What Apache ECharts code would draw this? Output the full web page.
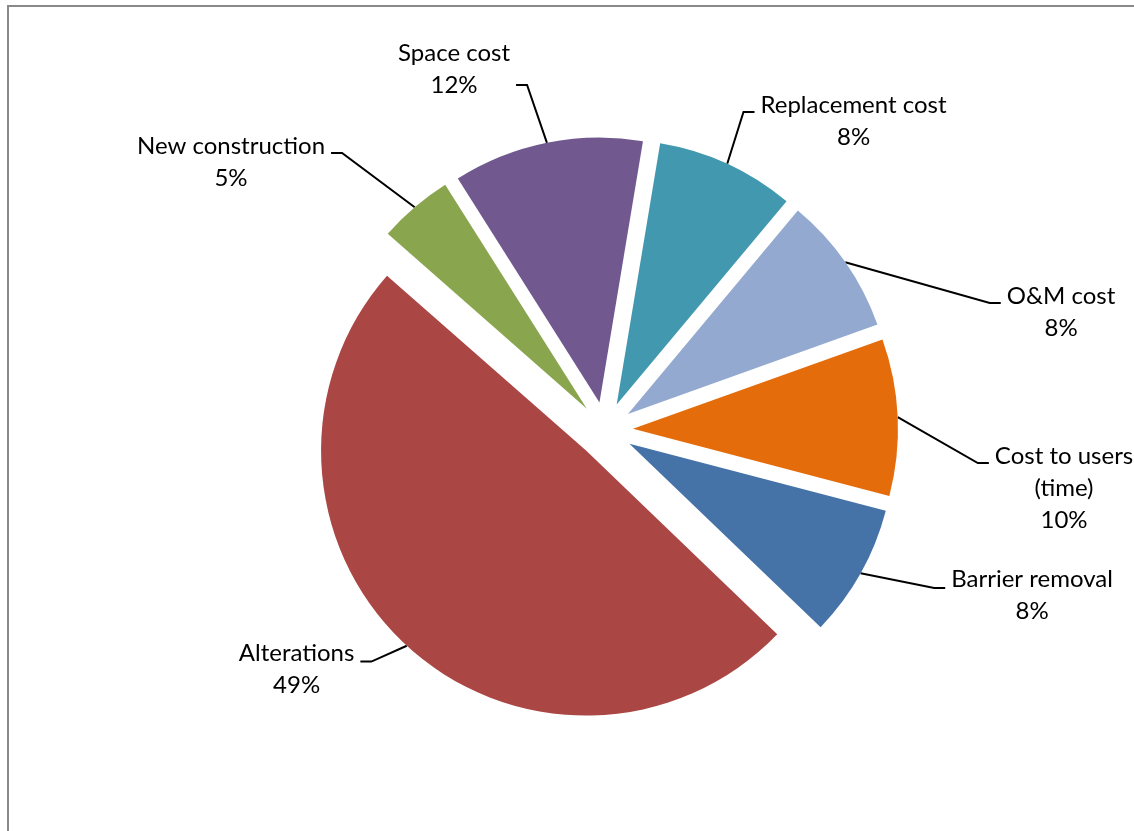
<!DOCTYPE html>
<html><head><meta charset="utf-8">
<script src="https://cdn.jsdelivr.net/npm/echarts@6/dist/echarts.min.js"></script>
<style>html,body{margin:0;padding:0;background:#fff;} #chart{width:1134px;height:831px;}</style>
</head><body><div id="chart"></div>
<script>
// ---- data ----
const categories = ['Replacement cost', 'O&M cost', 'Cost to users\n(time)', 'Barrier removal', 'Alterations', 'New construction', 'Space cost'];
const values = [8.45, 8.45, 9.55, 8.1, 49.3, 4.55, 11.6];
const colors = ['#4198AF', '#93A9CF', '#E46C0A', '#4572A7', '#AA4643', '#89A54E', '#71588F'];
// label nudges (px) from each slice's outer mid-point to the leader-line attach point,
// plus top/bottom padding that places the text relative to that attach point
const labelNudges = [[126.3, -51.7], [215.8, 40.7], [166.3, 45.9], [171.4, 14.8], [-110.2, 15.8], [-183.7, -54.2], [-92.9, -57.8]];
const labelPadTop = [18, 19, 50, 15, 16, 18, 0];
const labelPadBottom = [0, 0, 0, 0, 0, 0, 32];

const chart = echarts.init(document.getElementById('chart'), null, { renderer: 'canvas' });
const CENTER = [605, 430];
const RADIUS = 265;
const EXPLODE = 28;
const START = 80.55;

const sliceData = categories.map((n, i) => ({ name: n, value: values[i], selected: true, itemStyle: { color: colors[i] } }));
const labelData = categories.map((n, i) => ({ name: n, value: values[i], label: { padding: [labelPadTop[i], 6, labelPadBottom[i], 6] } }));

const option = {
  animation: false,
  graphic: [{ type: 'rect', silent: true, shape: { x: 8, y: 6, width: 1400, height: 1200 }, style: { fill: 'none', stroke: '#898989', lineWidth: 2 } }],
  series: [
    {
      type: 'pie', center: CENTER, radius: RADIUS, startAngle: START, clockwise: true,
      selectedMode: 'multiple', selectedOffset: EXPLODE, data: sliceData,
      label: { show: false }, labelLine: { show: false },
      emphasis: { disabled: true }, itemStyle: { borderWidth: 0 }, select: { itemStyle: { borderWidth: 0 } }
    },
    {
      type: 'pie', center: CENTER, radius: RADIUS + EXPLODE, startAngle: START, clockwise: true,
      silent: true, avoidLabelOverlap: false, data: labelData,
      itemStyle: { color: 'rgba(0,0,0,0)', borderWidth: 0 }, emphasis: { disabled: true },
      label: {
        show: true,
        formatter: p => p.name + '\n' + Math.round(p.percent) + '%',
        fontFamily: 'Lato', fontSize: 24, lineHeight: 32, color: '#000',
        backgroundColor: 'rgba(0,0,0,0)'
      },
      labelLine: { show: true, length: 10, length2: 11, lineStyle: { color: '#000', width: 2 } },
      labelLayout: function (params) {
        const pts = params.labelLinePoints;
        const a = pts && pts[0] ? pts[0] : [params.rect.x + params.rect.width / 2, params.rect.y + params.rect.height / 2];
        const n = labelNudges[params.dataIndex];
        return { x: a[0] + n[0], y: a[1] + n[1] - params.labelRect.height / 2, align: 'center', verticalAlign: 'top' };
      }
    }
  ]
};
chart.setOption(option);
</script></body></html>
